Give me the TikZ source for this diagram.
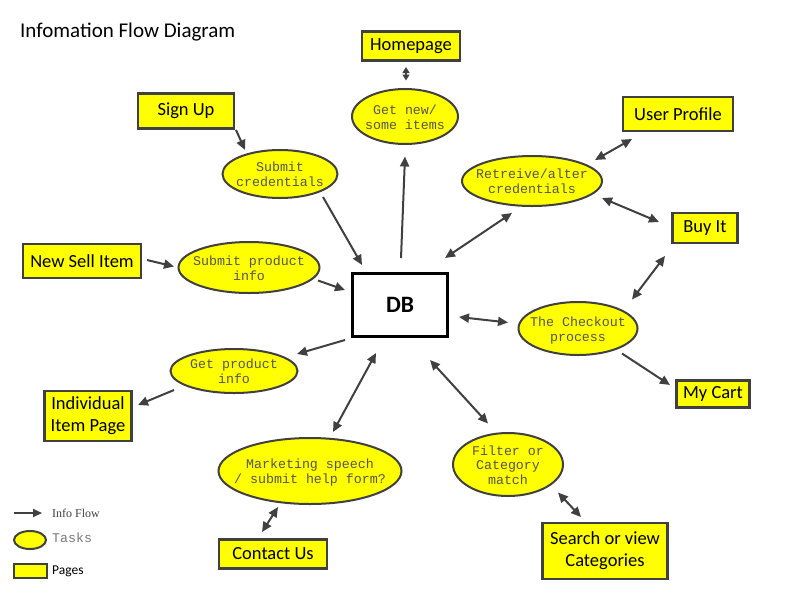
\documentclass[tikz,border=0pt]{standalone}
\usepackage{fontspec}
\setmainfont{Carlito}
\newfontfamily\monof{Liberation Mono}
\newfontfamily\serf{Liberation Serif}
\usetikzlibrary{shapes.geometric,arrows.meta,calc}
\definecolor{ln}{HTML}{404040}
\definecolor{yel}{HTML}{FFFF00}
\definecolor{mtxt}{HTML}{555555}
\newcommand{\tasktext}[1]{\makebox[0pt][c]{\raisebox{-6pt}{\begin{tabular}{@{}c@{}}#1\end{tabular}}}}
\tikzset{
  page/.style={draw=ln, line width=2.5pt, fill=yel, font=\fontsize{18.5}{22}\selectfont, align=center, inner sep=0pt},
  task/.style={ellipse, draw=ln, line width=2pt, fill=yel, font=\monof\fontsize{13.3}{14.8}\selectfont, text=mtxt, inner sep=0pt, text height=0pt, text depth=0pt},
  flow/.style={draw=ln, line width=2pt, -{Triangle[length=10pt,width=9pt]}},
  both/.style={draw=ln, line width=2pt, {Triangle[length=10pt,width=9pt]}-{Triangle[length=10pt,width=9pt]}},
  legtext/.style={anchor=west, inner sep=0pt}
}
\begin{document}
\begin{tikzpicture}[x=1pt,y=-1pt]
\useasboundingbox (0,0) rectangle (800,600);
\node[legtext, font=\fontsize{21}{25}\selectfont] (title) at (20,32) {Infomation Flow Diagram};

% pages
\node[page, minimum width=98pt, minimum height=29pt] (home) at (411,46) {Homepage};
\node[page, minimum width=96pt, minimum height=35pt] (signup) at (186,111) {Sign Up};
\node[page, minimum width=110pt, minimum height=34pt] (userprof) at (678,114) {User Profile};
\node[page, minimum width=65pt, minimum height=30pt] (buyit) at (705,228) {Buy It};
\node[page, minimum width=118pt, minimum height=34pt] (newsell) at (82,261) {New Sell Item};
\node[page, minimum width=87pt, minimum height=50pt] (itempage) at (88,416) {Individual\\Item Page};
\node[page, minimum width=73pt, minimum height=27pt] (mycart) at (713,394) {My Cart};
\node[page, minimum width=108pt, minimum height=29pt] (contact) at (273,554) {Contact Us};
\node[page, minimum width=125pt, minimum height=56pt] (search) at (605,551) {Search or view\\Categories};

% DB
\node[draw=black, line width=2.5pt, fill=white, minimum width=95pt, minimum height=63pt, font=\bfseries\fontsize{23.5}{28}\selectfont] (db) at (400,305) {DB};

% tasks
\node[task, minimum width=106pt, minimum height=55pt] (getnew) at (405,116.5) {\tasktext{Get new/\\some items}};
\node[task, minimum width=115pt, minimum height=48pt] (cred) at (280,174) {\tasktext{Submit\\credentials}};
\node[task, minimum width=140pt, minimum height=50pt] (retr) at (532,181) {\tasktext{Retreive/alter\\credentials}};
\node[task, minimum width=141pt, minimum height=51pt] (subprod) at (249,267.5) {\tasktext{Submit product\\info}};
\node[task, minimum width=119pt, minimum height=53pt] (checkout) at (578,328.5) {\tasktext{The Checkout\\process}};
\node[task, minimum width=127pt, minimum height=44pt] (getprod) at (234,371) {\tasktext{Get product\\info}};
\node[task, minimum width=183pt, minimum height=66pt] (market) at (310,471) {\tasktext{Marketing speech\\/ submit help form?}};
\node[task, minimum width=110pt, minimum height=63pt] (filter) at (508,464.5) {\tasktext{Filter or\\Category\\match}};

% connectors
\draw[flow] ($(signup)+(50,19)$) -- ($(cred)+(-35,-24)$);
\draw[flow] ($(cred)+(43,23)$) -- ($(db)+(-38,-40)$);
\draw[draw=ln, line width=2pt, {Triangle[length=6pt,width=7pt]}-{Triangle[length=6pt,width=7pt]}] ($(getnew)+(1,-36)$) -- ($(home)+(-5,21)$);
\draw[flow] ($(db)+(1,-47)$) -- ($(getnew)+(0,40)$);
\draw[both] ($(db)+(45,-47)$) -- ($(retr)+(-20,32)$);
\draw[both] ($(retr)+(63,-21)$) -- ($(userprof)+(-46,25)$);
\draw[both] ($(retr)+(70,17)$) -- ($(buyit)+(-46,-6)$);
\draw[both] ($(buyit)+(-40,28)$) -- ($(checkout)+(54,-29)$);
\draw[both] ($(db)+(59,12)$) -- ($(checkout)+(-70,-6)$);
\draw[flow] ($(checkout)+(44,25)$) -- ($(mycart)+(-43,-9)$);
\draw[flow] ($(newsell)+(65,-1)$) -- ($(subprod)+(-75,-1)$);
\draw[flow] ($(subprod)+(69,13)$) -- ($(db)+(-55,-15)$);
\draw[flow] ($(db)+(-55,35)$) -- ($(getprod)+(63,-17)$);
\draw[flow] ($(getprod)+(-60,19)$) -- ($(itempage)+(50,-11)$);
\draw[both] ($(market)+(23,-39)$) -- ($(db)+(-24,48)$);
\draw[both] ($(market)+(-32,36)$) -- ($(contact)+(-11,-22)$);
\draw[both] ($(db)+(30,55)$) -- ($(filter)+(-20,-41)$);
\draw[both] ($(filter)+(50,28)$) -- ($(search)+(-24,-34)$);

% legend
\coordinate (la) at (14,513);
\coordinate (lb) at (42,513);
\draw[draw=ln, line width=2pt, -{Triangle[length=9pt,width=8pt]}] (la) -- (lb);
\node[legtext, font=\serf\fontsize{12}{14}\selectfont, text=ln] (lflow) at (52,513) {Info Flow};
\node[task, minimum width=32pt, minimum height=18pt] (ltask) at (30,540) {};
\node[legtext, font=\monof\fontsize{13.3}{15}\selectfont, text=mtxt!80] (ltasktext) at (52,538) {Tasks};
\node[page, line width=2pt, minimum width=33pt, minimum height=14pt] (lpage) at (30,571) {};
\node[legtext, font=\fontsize{13.5}{16}\selectfont] (lpagetext) at (52,571) {Pages};
\end{tikzpicture}
\end{document}
